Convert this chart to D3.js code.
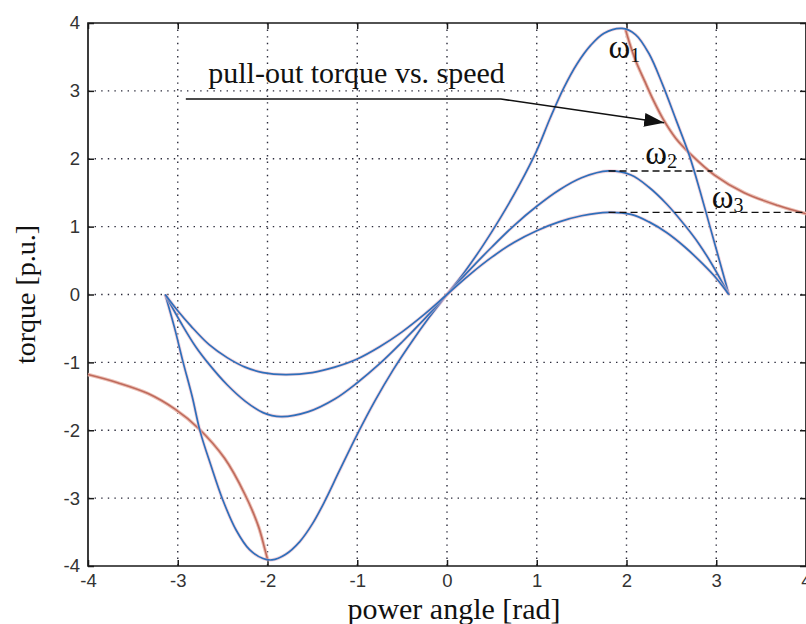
<!DOCTYPE html>
<html><head><meta charset="utf-8">
<script src="https://cdn.jsdelivr.net/npm/d3@7"></script>
<style>body{margin:0;background:#fff}svg{display:block}</style>
</head><body>
<svg id="c" width="806" height="624"></svg>
<script>
// ---- data ----
const xTicks = [-4,-3,-2,-1,0,1,2,3,4];
const yTicks = [-4,-3,-2,-1,0,1,2,3,4];
const xLabel = "power angle [rad]";
const yLabel = "torque [p.u.]";

// omega_1 curve (largest)
const curve1 = [[-3.14,0],[-3.04,-0.47],[-2.94,-1.0],[-2.84,-1.5],[-2.75,-2.02],[-2.63,-2.52],[-2.5,-3.02],[-2.35,-3.47],[-2.2,-3.76],[-2.05,-3.89],[-1.95,-3.91],[-1.8,-3.83],[-1.64,-3.64],[-1.5,-3.38],[-1.36,-3.04],[-1.2,-2.6],[-1.0,-2.06],[-0.8,-1.56],[-0.6,-1.11],[-0.4,-0.71],[-0.2,-0.34],[0,0],
  [0.2,0.34],[0.4,0.72],[0.6,1.14],[0.8,1.6],[1.0,2.12],[1.15,2.6],[1.3,3.04],[1.45,3.4],[1.6,3.67],[1.75,3.85],[1.95,3.92],[2.1,3.83],[2.25,3.55],[2.4,3.1],[2.55,2.58],[2.7,2.05],[2.82,1.52],[2.93,1.0],[3.04,0.48],[3.14,0]];
// omega_2 curve
const curve2 = [[-3.14,0],[-2.95,-0.45],[-2.8,-0.77],[-2.65,-1.03],[-2.45,-1.33],[-2.25,-1.57],[-2.05,-1.74],[-1.85,-1.8],[-1.55,-1.73],[-1.25,-1.54],[-1.0,-1.3],[-0.75,-1.02],[-0.5,-0.7],[-0.25,-0.36],[0,0],
  [0.25,0.36],[0.5,0.7],[0.75,1.02],[1.0,1.3],[1.25,1.54],[1.5,1.72],[1.8,1.82],[2.05,1.76],[2.25,1.58],[2.45,1.33],[2.65,1.02],[2.8,0.76],[2.95,0.45],[3.14,0]];
// omega_3 curve
const curve3 = [[-3.14,0],[-3.0,-0.24],[-2.85,-0.47],[-2.65,-0.74],[-2.45,-0.93],[-2.25,-1.07],[-2.05,-1.15],[-1.8,-1.18],[-1.5,-1.15],[-1.25,-1.07],[-1.0,-0.95],[-0.75,-0.77],[-0.5,-0.55],[-0.25,-0.29],[0,0],
  [0.25,0.29],[0.5,0.55],[0.75,0.77],[1.0,0.94],[1.25,1.07],[1.5,1.16],[1.8,1.21],[2.05,1.18],[2.25,1.07],[2.45,0.91],[2.65,0.7],[2.85,0.45],[3.0,0.24],[3.14,0]];
// pull-out torque vs. speed (two branches)
const pulloutNeg = [[-4,-1.18],[-3.67,-1.3],[-3.33,-1.46],[-3.03,-1.69],[-2.77,-1.97],[-2.48,-2.41],[-2.25,-2.95],[-2.1,-3.42],[-2.03,-3.75],[-2.0,-3.9]];
const pulloutPos = [[1.99,3.9],[2.03,3.72],[2.1,3.45],[2.2,3.15],[2.3,2.86],[2.41,2.58],[2.55,2.3],[2.72,2.06],[2.98,1.76],[3.31,1.5],[3.69,1.31],[4.0,1.19]];
// dashed reference levels (peak of omega2 / omega3 curves to pull-out curve)
const dashLevels = [{y:1.82,x0:1.8,x1:2.96},{y:1.21,x0:1.8,x1:3.96}];
// omega labels
const omegaLabels = [{sub:"1",x:1.8,y:3.48},{sub:"2",x:2.21,y:1.93},{sub:"3",x:2.95,y:1.27}];
const annotation = {text:"pull-out torque vs. speed", x:-2.66, y:3.11};
const arrowPts = [[-2.91,2.88],[0.6,2.88],[2.42,2.53]];

// ---- drawing ----
const svg = d3.select("#c");
svg.append("rect").attr("width",806).attr("height",624).attr("fill","#fff");
const L=88, R=806, T=23, B=566;
const x = d3.scaleLinear().domain([-4,4]).range([L,R]);
const y = d3.scaleLinear().domain([-4,4]).range([B,T]);

const g = svg.append("g");
// grid
g.selectAll(".gx").data(xTicks.filter(d=>d>-4&&d<4)).join("line")
  .attr("x1",d=>x(d)).attr("x2",d=>x(d)).attr("y1",T).attr("y2",B)
  .attr("stroke","#2a2a3a").attr("stroke-width",1.4).attr("stroke-dasharray","1.4,5.2");
g.selectAll(".gy").data(yTicks.filter(d=>d>-4&&d<4)).join("line")
  .attr("y1",d=>y(d)).attr("y2",d=>y(d)).attr("x1",L).attr("x2",R)
  .attr("stroke","#2a2a3a").attr("stroke-width",1.4).attr("stroke-dasharray","1.4,5.2");

// axes
const fontTick = "'Liberation Sans', Arial, sans-serif";
const ax = svg.append("g").attr("transform",`translate(0,${B})`)
  .call(d3.axisBottom(x).tickValues(xTicks).tickSizeInner(-6).tickSizeOuter(0).tickPadding(8).tickFormat(d3.format("d")));
const ay = svg.append("g").attr("transform",`translate(${L},0)`)
  .call(d3.axisLeft(y).tickValues(yTicks).tickSizeInner(-6).tickSizeOuter(0).tickPadding(8).tickFormat(d3.format("d")));
const at = svg.append("g").attr("transform",`translate(0,${T})`)
  .call(d3.axisTop(x).tickValues(xTicks).tickSizeInner(-6).tickSizeOuter(0).tickFormat(""));
const ar = svg.append("g").attr("transform",`translate(${R},0)`)
  .call(d3.axisRight(y).tickValues(yTicks).tickSizeInner(-6).tickSizeOuter(0).tickFormat(""));
[ax,ay,at,ar].forEach(a=>{
  a.select(".domain").remove();
  a.selectAll("line").attr("stroke","#1a1a1a").attr("stroke-width",1.5);
  a.selectAll("text").attr("font-family",fontTick).attr("font-size",18.5).attr("fill","#333");
});
ax.selectAll("text").text(d=>d<0?"-"+Math.abs(d):d);
ay.selectAll("text").text(d=>d<0?"-"+Math.abs(d):d);
// frame
svg.append("path").attr("d",`M${L},${B}V${T}H${R}V${B}Z`).attr("fill","none").attr("stroke","#1a1a1a").attr("stroke-width",1.7);

// curves
const line = d3.line().x(d=>x(d[0])).y(d=>y(d[1])).curve(d3.curveCatmullRom.alpha(0.5));
const cg = svg.append("g");
[pulloutNeg,pulloutPos].forEach(p=>{
  cg.append("path").attr("d",line(p)).attr("fill","none").attr("stroke","#ecc0b6").attr("stroke-width",3.6);
  cg.append("path").attr("d",line(p)).attr("fill","none").attr("stroke","#bf6a5c").attr("stroke-width",1.6);
});
[curve1,curve2,curve3].forEach(p=>{
  cg.append("path").attr("d",line(p)).attr("fill","none").attr("stroke","#eab4c4").attr("stroke-width",3.4).attr("opacity",0.55);
  cg.append("path").attr("d",line(p)).attr("fill","none").attr("stroke","#2f6fba").attr("stroke-width",1.7);
});

// dashed levels
svg.selectAll(".dl").data(dashLevels).join("line")
  .attr("x1",d=>x(d.x0)).attr("x2",d=>x(d.x1)).attr("y1",d=>y(d.y)).attr("y2",d=>y(d.y))
  .attr("stroke","#111").attr("stroke-width",1.4).attr("stroke-dasharray","7,4");

// omega labels
const serif = "'Liberation Serif','Times New Roman',serif";
omegaLabels.forEach(o=>{
  const t = svg.append("text").attr("x",x(o.x)).attr("y",y(o.y)).attr("font-family",serif).attr("font-size",33).attr("fill","#111");
  t.append("tspan").text("ω");
  t.append("tspan").attr("font-size",20).attr("dy",4).text(o.sub);
});

// annotation + arrow
svg.append("text").attr("x",x(annotation.x)).attr("y",y(annotation.y)).attr("font-family",serif).attr("font-size",30).attr("fill","#111").text(annotation.text);
svg.append("defs").append("marker").attr("id","ah").attr("viewBox","0 0 20 14").attr("refX",20).attr("refY",7)
  .attr("markerWidth",20).attr("markerHeight",14).attr("markerUnits","userSpaceOnUse").attr("orient","auto")
  .append("path").attr("d","M0,0L20,7L0,14Z").attr("fill","#111");
svg.append("path").attr("d",d3.line().x(d=>x(d[0])).y(d=>y(d[1]))(arrowPts)).attr("fill","none")
  .attr("stroke","#111").attr("stroke-width",1.6).attr("marker-end","url(#ah)");

// axis titles
svg.append("text").attr("x",(L+R)/2+7).attr("y",619).attr("text-anchor","middle").attr("font-family",serif).attr("font-size",30).attr("fill","#111").text(xLabel);
svg.append("text").attr("transform",`translate(35,${(T+B)/2}) rotate(-90)`).attr("text-anchor","middle").attr("font-family",serif).attr("font-size",28).attr("fill","#111").text(yLabel);
</script>
</body></html>
